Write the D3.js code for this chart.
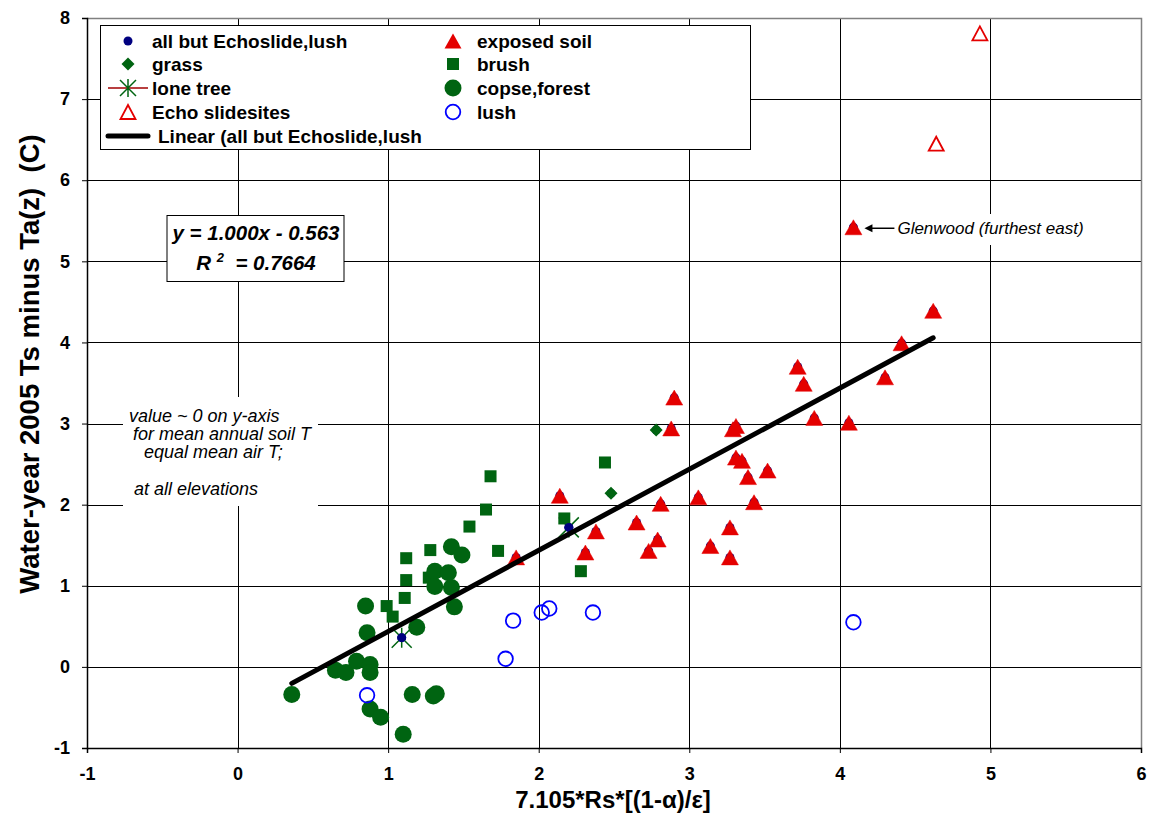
<!DOCTYPE html>
<html>
<head>
<meta charset="utf-8">
<script src="https://cdn.jsdelivr.net/npm/d3@7"></script>
<style>
  body { margin: 0; background: #fff; }
  svg { display: block; font-family: "Liberation Sans", Arial, sans-serif; }
  text { white-space: pre; }
</style>
</head>
<body>
<svg id="chart" width="1152" height="817"></svg>
<script>
// ---- data ----
const xTicks = [-1, 0, 1, 2, 3, 4, 5, 6];
const yTicks = [-1, 0, 1, 2, 3, 4, 5, 6, 7, 8];

const exposedSoil = [
  [2.90, 3.32], [2.88, 2.94], [3.31, 2.97], [3.29, 2.93], [3.31, 2.58], [3.35, 2.54],
  [3.39, 2.34], [3.52, 2.42], [2.14, 2.11], [2.81, 2.01], [3.06, 2.09], [3.43, 2.03],
  [2.38, 1.67], [2.65, 1.78], [2.79, 1.57], [2.73, 1.43], [3.27, 1.72], [3.14, 1.49],
  [3.27, 1.35], [2.31, 1.41], [1.85, 1.35], [4.62, 4.39], [4.41, 3.99], [4.30, 3.57],
  [3.72, 3.70], [3.76, 3.49], [3.83, 3.07], [4.06, 3.01], [4.09, 5.42]
];
const echoSlide = [[4.93, 7.81], [4.64, 6.45]];
const lush = [[4.09, 0.55], [0.86, -0.35], [1.83, 0.57], [1.78, 0.10], [2.02, 0.67], [2.07, 0.72], [2.36, 0.67]];
const loneTree = [[1.09, 0.36], [2.20, 1.72]];
const grass = [[2.78, 2.92], [2.48, 2.14]];
const brush = [
  [1.68, 2.35], [1.65, 1.94], [1.54, 1.73], [1.28, 1.44], [1.73, 1.43], [1.12, 1.34],
  [1.12, 1.07], [1.11, 0.85], [0.99, 0.75], [1.03, 0.62], [2.44, 2.52], [2.17, 1.83],
  [2.28, 1.18], [1.27, 1.10]
];
const copseForest = [
  [0.36, -0.34], [0.65, -0.04], [0.72, -0.07], [0.79, 0.07], [0.88, 0.03], [0.88, -0.07],
  [0.85, 0.75], [0.86, 0.42], [0.88, -0.52], [0.95, -0.62], [1.10, -0.83], [1.16, -0.34],
  [1.30, -0.36], [1.32, -0.33], [1.19, 0.49], [1.42, 1.48], [1.49, 1.38], [1.31, 1.18],
  [1.40, 1.16], [1.31, 0.99], [1.42, 0.98], [1.44, 0.74]
];
// combined fit series (every site except Echo slide and lush)
const allButEchoLush = [].concat(exposedSoil, loneTree, grass, brush, copseForest);
const fit = { slope: 1.000, intercept: -0.563, r2: 0.7664, xMin: 0.36, xMax: 4.62 };

const eqLine = "y = 1.000x - 0.563";
const noteLines = ["value ~ 0 on y-axis", "for mean annual soil T", "equal mean air T;", "at all elevations"];
const glenwoodLabel = "Glenwood (furthest east)";
const glenwoodPoint = [4.09, 5.42];

// ---- layout ----
const svg = d3.select("#chart");
const pL = 87, pR = 1141, pT = 18, pB = 748;
const x = d3.scaleLinear().domain([-1, 6]).range([pL, pR]);
const y = d3.scaleLinear().domain([-1, 8]).range([pB, pT]);

const GREEN = "#006411", RED = "#e40000", BLUE = "#0000ff", NAVY = "#000080";
const fmtTick = d => String(d).replace("\u2212", "-");

// grid
const grid = svg.append("g");
grid.selectAll("line.h").data(yTicks.filter(v => v > -1 && v < 8)).join("line")
  .attr("x1", pL).attr("x2", pR)
  .attr("y1", d => Math.round(y(d)) + 0.5).attr("y2", d => Math.round(y(d)) + 0.5)
  .attr("stroke", "#000").attr("stroke-width", 1);
grid.selectAll("line.v").data(xTicks.filter(v => v > -1 && v < 6)).join("line")
  .attr("y1", pT).attr("y2", pB)
  .attr("x1", d => Math.round(x(d)) + 0.5).attr("x2", d => Math.round(x(d)) + 0.5)
  .attr("stroke", "#000").attr("stroke-width", 1);

// plot frame (grey top/right)
svg.append("path")
  .attr("d", `M${pL},${pT + 0.5}H${pR + 0.5}V${pB}`)
  .attr("fill", "none").attr("stroke", "#808080").attr("stroke-width", 1.5);

// axes
const xAxis = d3.axisBottom(x).tickValues(xTicks).tickSize(5).tickPadding(14).tickFormat(fmtTick);
const yAxis = d3.axisLeft(y).tickValues(yTicks).tickSize(5).tickPadding(12).tickFormat(fmtTick);
const gx = svg.append("g").attr("transform", `translate(0,${pB})`).call(xAxis);
const gy = svg.append("g").attr("transform", `translate(${pL},0)`).call(yAxis);
[gx, gy].forEach(g => {
  g.select(".domain").attr("stroke", "#000").attr("stroke-width", 1.5);
  g.selectAll(".tick line").attr("stroke", "#000").attr("stroke-width", 1);
  g.selectAll(".tick text").attr("font-size", 18).attr("font-weight", "bold")
    .attr("fill", "#000").attr("font-family", "Liberation Sans, Arial, sans-serif");
});

// axis titles
svg.append("text").attr("x", 613).attr("y", 808).attr("text-anchor", "middle")
  .attr("font-size", 24).attr("font-weight", "bold").text("7.105*Rs*[(1-α)/ε]");
svg.append("text").attr("transform", "translate(39,364) rotate(-90)").attr("text-anchor", "middle")
  .attr("font-size", 27.5).attr("font-weight", "bold").text("Water-year 2005 Ts minus Ta(z)  (C)");

// ---- marker drawers ----
function triPath(w, h) {
  return `M0,${-h / 2}L${w / 2},${h / 2}L${-w / 2},${h / 2}Z`;
}
function drawTriangles(g, data, filled) {
  g.selectAll(null).data(data).join("path")
    .attr("transform", d => `translate(${x(d[0])},${y(d[1])})`)
    .attr("d", filled ? triPath(17, 15) : triPath(15, 14))
    .attr("fill", filled ? RED : "#fff")
    .attr("stroke", RED).attr("stroke-width", filled ? 0.5 : 1.8);
}
function drawSquares(g, data) {
  g.selectAll(null).data(data).join("rect")
    .attr("x", d => x(d[0]) - 6).attr("y", d => y(d[1]) - 6)
    .attr("width", 12).attr("height", 12).attr("fill", GREEN);
}
function drawDiamonds(g, data) {
  g.selectAll(null).data(data).join("path")
    .attr("transform", d => `translate(${x(d[0])},${y(d[1])})`)
    .attr("d", "M0,-6.5L6.5,0L0,6.5L-6.5,0Z").attr("fill", GREEN);
}
function drawDiscs(g, data, r, fill) {
  g.selectAll(null).data(data).join("circle")
    .attr("cx", d => x(d[0])).attr("cy", d => y(d[1])).attr("r", r).attr("fill", fill);
}
function drawRings(g, data) {
  g.selectAll(null).data(data).join("circle")
    .attr("cx", d => x(d[0])).attr("cy", d => y(d[1])).attr("r", 7.3)
    .attr("fill", "none").attr("stroke", BLUE).attr("stroke-width", 1.8);
}
function drawStars(g, data) {
  const s = 10;
  g.selectAll(null).data(data).join("path")
    .attr("transform", d => `translate(${x(d[0])},${y(d[1])})`)
    .attr("d", `M0,${-s}V${s}M${-s},${-s}L${s},${s}M${-s},${s}L${s},${-s}`)
    .attr("stroke", GREEN).attr("stroke-width", 1.5).attr("fill", "none");
}

// annotation backgrounds (white boxes hiding grid)
svg.append("rect").attr("x", 123).attr("y", 397).attr("width", 195).attr("height", 109).attr("fill", "#fff");
svg.append("rect").attr("x", 895).attr("y", 214).attr("width", 194).attr("height", 31).attr("fill", "#fff");

// ---- series ----
const marks = svg.append("g");
drawDiscs(marks.append("g"), allButEchoLush, 4.5, NAVY);
drawTriangles(marks.append("g"), exposedSoil, true);
drawSquares(marks.append("g"), brush);
drawDiscs(marks.append("g"), copseForest, 8.5, GREEN);
drawDiamonds(marks.append("g"), grass);
drawStars(marks.append("g"), loneTree);
drawDiscs(marks.append("g"), loneTree, 4.5, NAVY);
drawTriangles(marks.append("g"), echoSlide, false);
drawRings(marks.append("g"), lush);

// trend line
svg.append("line")
  .attr("x1", x(fit.xMin)).attr("y1", y(fit.slope * fit.xMin + fit.intercept))
  .attr("x2", x(fit.xMax)).attr("y2", y(fit.slope * fit.xMax + fit.intercept))
  .attr("stroke", "#000").attr("stroke-width", 5).attr("stroke-linecap", "round");

// ---- equation box ----
svg.append("rect").attr("x", 167).attr("y", 215.5).attr("width", 177).attr("height", 66)
  .attr("fill", "#fff").attr("stroke", "#000").attr("stroke-width", 1);
svg.append("text").attr("x", 256).attr("y", 240).attr("text-anchor", "middle")
  .attr("font-size", 20.5).attr("font-weight", "bold").attr("font-style", "italic").text(eqLine);
const r2 = svg.append("text").attr("x", 256).attr("y", 270).attr("text-anchor", "middle")
  .attr("font-size", 20.5).attr("font-weight", "bold").attr("font-style", "italic");
r2.append("tspan").text("R ");
r2.append("tspan").attr("dy", -8).attr("font-size", 13).text("2");
r2.append("tspan").attr("dy", 8).text("  = " + fit.r2.toFixed(4));

// ---- note text ----
const noteX = [129, 133, 144, 134];
const noteY = [422, 440, 458, 495];
noteLines.forEach((t, i) => {
  svg.append("text").attr("x", noteX[i]).attr("y", noteY[i])
    .attr("font-size", 18).attr("font-style", "italic").text(t);
});

// ---- Glenwood callout ----
const gx0 = x(glenwoodPoint[0]) + 11, gy0 = y(glenwoodPoint[1]) + 1;
svg.append("line").attr("x1", gx0 + 6).attr("x2", gx0 + 30).attr("y1", gy0).attr("y2", gy0)
  .attr("stroke", "#000").attr("stroke-width", 1.5);
svg.append("path").attr("d", `M${gx0},${gy0}l8,-4v8z`).attr("fill", "#000");
svg.append("text").attr("x", gx0 + 33).attr("y", gy0 + 6)
  .attr("font-size", 17).attr("font-style", "italic").text(glenwoodLabel);

// ---- legend ----
const lg = svg.append("g");
lg.append("rect").attr("x", 100.5).attr("y", 25.5).attr("width", 650).attr("height", 124)
  .attr("fill", "#fff").attr("stroke", "#000").attr("stroke-width", 1);
const rowY = [41, 64, 88, 112, 136];
const col1M = 128, col1T = 152, col2M = 453, col2T = 477;
const legendItems = [
  { label: "all but Echoslide,lush", kind: "navy", col: 0, row: 0 },
  { label: "grass", kind: "diamond", col: 0, row: 1 },
  { label: "lone tree", kind: "star", col: 0, row: 2 },
  { label: "Echo slidesites", kind: "openTri", col: 0, row: 3 },
  { label: "exposed soil", kind: "tri", col: 1, row: 0 },
  { label: "brush", kind: "square", col: 1, row: 1 },
  { label: "copse,forest", kind: "disc", col: 1, row: 2 },
  { label: "lush", kind: "ring", col: 1, row: 3 }
];
legendItems.forEach(it => {
  const mx = it.col ? col2M : col1M, tx = it.col ? col2T : col1T, cy = rowY[it.row];
  const g = lg.append("g").attr("transform", `translate(${mx},${cy})`);
  if (it.kind === "navy") g.append("circle").attr("r", 4.5).attr("fill", NAVY);
  if (it.kind === "diamond") g.append("path").attr("d", "M0,-6.5L6.5,0L0,6.5L-6.5,0Z").attr("fill", GREEN);
  if (it.kind === "star") {
    g.append("line").attr("x1", -20).attr("x2", 20).attr("stroke", "#a00000").attr("stroke-width", 1.5);
    g.append("path").attr("d", "M0,-9V9M-8,-8L8,8M-8,8L8,-8").attr("stroke", GREEN).attr("stroke-width", 1.5);
  }
  if (it.kind === "openTri") g.append("path").attr("d", triPath(15, 14)).attr("fill", "#fff").attr("stroke", RED).attr("stroke-width", 1.8);
  if (it.kind === "tri") g.append("path").attr("d", triPath(17, 15)).attr("fill", RED);
  if (it.kind === "square") g.append("rect").attr("x", -6).attr("y", -6).attr("width", 12).attr("height", 12).attr("fill", GREEN);
  if (it.kind === "disc") g.append("circle").attr("r", 8.5).attr("fill", GREEN);
  if (it.kind === "ring") g.append("circle").attr("r", 7.3).attr("fill", "none").attr("stroke", BLUE).attr("stroke-width", 1.8);
  lg.append("text").attr("x", tx).attr("y", cy + 7).attr("font-size", 19).attr("font-weight", "bold").text(it.label);
});
lg.append("line").attr("x1", 108).attr("x2", 148).attr("y1", rowY[4]).attr("y2", rowY[4])
  .attr("stroke", "#000").attr("stroke-width", 5).attr("stroke-linecap", "round");
lg.append("text").attr("x", 158).attr("y", rowY[4] + 7).attr("font-size", 19).attr("font-weight", "bold")
  .text("Linear (all but Echoslide,lush");
</script>
</body>
</html>
